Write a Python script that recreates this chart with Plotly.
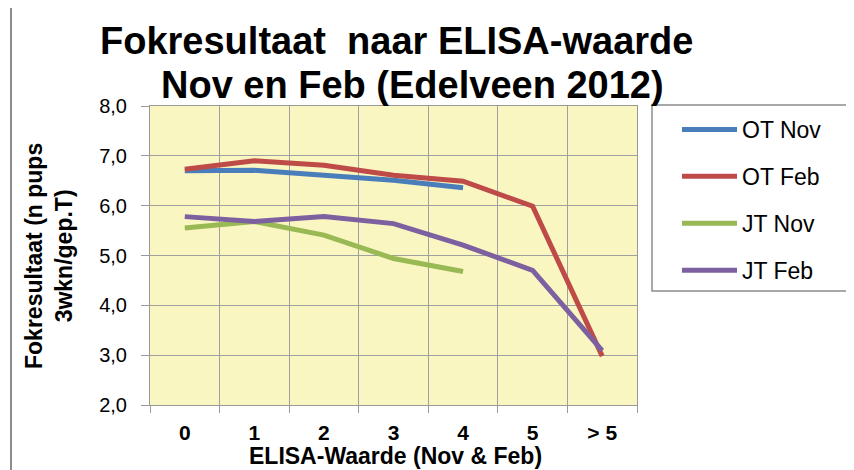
import plotly.graph_objects as go

categories = ["0", "1", "2", "3", "4", "5", "> 5"]
ot_nov = [6.70, 6.71, 6.61, 6.51, 6.36, None, None]
ot_feb = [6.73, 6.90, 6.81, 6.61, 6.49, 5.99, 2.98]
jt_nov = [5.55, 5.68, 5.41, 4.94, 4.68, None, None]
jt_feb = [5.78, 5.68, 5.78, 5.64, 5.21, 4.70, 3.09]
series_names = ["OT Nov", "OT Feb", "JT Nov", "JT Feb"]
series_colors = ["#4A7EBB", "#BE4B48", "#98B954", "#7D60A0"]

FONT = "Liberation Sans, Arial, sans-serif"

fig = go.Figure()
for i, (name, vals, col) in enumerate(zip(series_names, [ot_nov, ot_feb, jt_nov, jt_feb], series_colors)):
    fig.add_trace(go.Scatter(
        x=categories, y=vals, name=name, mode="lines",
        line=dict(color=col, width=5),
        legendgroup=f"g{i}",
        connectgaps=False,
    ))

OFF = 8  # page body margin
W, H = 846, 462
L, T = 142, 98
pw, ph = 487, 299
R = W - L - pw
B = H - T - ph

def px(xw):
    return (xw - OFF - L) / pw

def py(yw):
    return (T + ph - (yw - OFF)) / ph

fig.update_layout(
    width=W, height=H,
    margin=dict(l=L, r=R, t=T, b=B),
    paper_bgcolor="white",
    plot_bgcolor="#FAF6C2",
    separators=",.",
    font=dict(family=FONT, color="#000000"),
    showlegend=True,
    legend=dict(
        x=px(677), y=py(108), xanchor="left", yanchor="top",
        font=dict(size=23, family=FONT, color="#000"),
        bgcolor="rgba(0,0,0,0)",
        tracegroupgap=14,
        itemwidth=55,
        traceorder="grouped",
    ),
    xaxis=dict(
        type="category",
        tickson="boundaries",
        showgrid=True, gridcolor="#A0A0A0", gridwidth=1,
        showline=True, linecolor="#999999", linewidth=1, mirror=True,
        ticks="outside", ticklen=7, tickcolor="#999999",
        tickfont=dict(size=21, family=FONT, color="#000", weight="bold"),
        ticklabelstandoff=9,
        range=[-0.5, 6.5],
    ),
    yaxis=dict(
        range=[2, 8], dtick=1, tickformat=".1f",
        showgrid=True, gridcolor="#A0A0A0", gridwidth=1,
        showline=True, linecolor="#999999", linewidth=1, mirror=True,
        ticks="outside", ticklen=8, tickcolor="#999999",
        tickfont=dict(size=20, family=FONT, color="#000"),
        ticklabelstandoff=10,
        zeroline=False,
    ),
    shapes=[
        dict(type="rect", xref="paper", yref="paper",
             x0=px(11), x1=px(900), y0=py(520), y1=py(7),
             line=dict(color="#8C8C8C", width=2), fillcolor="rgba(0,0,0,0)", layer="below"),
        dict(type="rect", xref="paper", yref="paper",
             x0=px(652), x1=px(900), y0=py(291), y1=py(105),
             line=dict(color="#8C8C8C", width=1.5), fillcolor="rgba(0,0,0,0)", layer="below"),
    ],
    annotations=[
        dict(text="<b>Fokresultaat  naar ELISA-waarde</b>", xref="paper", yref="paper",
             x=px(396), y=py(41), xanchor="center", yanchor="middle", showarrow=False,
             font=dict(size=38, family=FONT, color="#000")),
        dict(text="<b>Nov en Feb (Edelveen 2012)</b>", xref="paper", yref="paper",
             x=px(412), y=py(85), xanchor="center", yanchor="middle", showarrow=False,
             font=dict(size=38, family=FONT, color="#000")),
        dict(text="<b>Fokresultaat (n pups<br>3wkn/gep.T)</b>", xref="paper", yref="paper",
             x=px(49), y=py(256), xanchor="center", yanchor="middle", showarrow=False,
             textangle=-90, font=dict(size=23, family=FONT, color="#000")),
        dict(text="<b>ELISA-Waarde (Nov &amp; Feb)</b>", xref="paper", yref="paper",
             x=px(395), y=py(456), xanchor="center", yanchor="middle", showarrow=False,
             font=dict(size=23, family=FONT, color="#000")),
    ],
)

fig.write_html("out.html")
